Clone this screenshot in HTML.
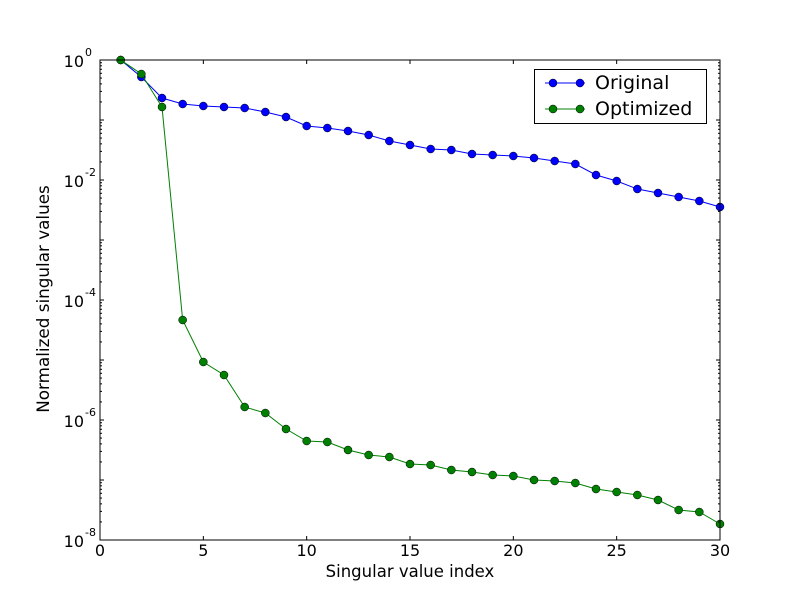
<!DOCTYPE html>
<html><head><meta charset="utf-8"><style>
body{margin:0;background:#fff;}
svg{display:block;font-family:"DejaVu Sans","Liberation Sans",sans-serif;}
</style></head><body>
<svg id="s" width="800" height="600" xmlns="http://www.w3.org/2000/svg">
<rect x="0" y="0" width="800" height="600" fill="#fff"/>
<g id="g"></g>
<rect x="100" y="60" width="620" height="480" fill="none" stroke="#000" stroke-width="1"/>
<text x="410" y="577" font-size="16.5" text-anchor="middle">Singular value index</text>
<text transform="translate(49,299) rotate(-90)" font-size="16.8" text-anchor="middle">Normalized singular values</text>
<rect x="534.5" y="69.5" width="172" height="54" fill="#fff" stroke="#000"/>
<line x1="545" y1="83" x2="585" y2="83" stroke="#0000ff"/>
<circle cx="553" cy="83" r="4" fill="#0000ff" stroke="#000" stroke-width="0.5"/>
<circle cx="580" cy="83" r="4" fill="#0000ff" stroke="#000" stroke-width="0.5"/>
<text x="595" y="89" font-size="19">Original</text>
<line x1="545" y1="109" x2="585" y2="109" stroke="#008000"/>
<circle cx="553" cy="109" r="4" fill="#008000" stroke="#000" stroke-width="0.5"/>
<circle cx="580" cy="109" r="4" fill="#008000" stroke="#000" stroke-width="0.5"/>
<text x="595" y="115" font-size="19">Optimized</text>
</svg>
<script>
var NS="http://www.w3.org/2000/svg",g=document.getElementById('g');
function el(t,a,txt){var e=document.createElementNS(NS,t);for(var k in a)e.setAttribute(k,a[k]);if(txt!=null)e.textContent=txt;g.appendChild(e);return e;}
function X(v){return 100+v*620/30;}
var b=[60,77,98,104,106,107,108,112,117,126,128,131,135,141,145,149,150,154,155,156,158,161,164,175,181,189,193,197,201,207];
var gr=[60,74,107,320,362,375,407,413,429,441,442,450,455,457,464,465,470,472,475,476,480,481,483,489,492,495,500,510,512,524];
[[b,'#0000ff'],[gr,'#008000']].forEach(function(s){
 var p=s[0].map(function(y,i){return X(i+1)+','+y;}).join(' ');
 el('polyline',{points:p,fill:'none',stroke:s[1],'stroke-width':1});
 s[0].forEach(function(y,i){el('circle',{cx:X(i+1),cy:y,r:4,fill:s[1],stroke:'#000','stroke-width':0.5});});
});
for(var i=0;i<=30;i+=5){var x=X(i);
 el('line',{x1:x,y1:540,x2:x,y2:536,stroke:'#000'});el('line',{x1:x,y1:60,x2:x,y2:64,stroke:'#000'});
 el('text',{x:x,y:556,'font-size':16,'text-anchor':'middle'},''+i);}
for(var d=0;d<=8;d++){var y=60+d*60;
 el('line',{x1:100,y1:y,x2:104,y2:y,stroke:'#000'});el('line',{x1:720,y1:y,x2:716,y2:y,stroke:'#000'});
 if(d%2==0){var t=el('text',{x:84,y:y+7,'font-size':16,'text-anchor':'end'},'10');
  el('text',{x:85,y:y-4,'font-size':11},d==0?'0':'-'+d);}
 if(d<8)for(var m=2;m<=9;m++){var yy=y+60-60*Math.log10(m);
  el('line',{x1:100,y1:yy,x2:102,y2:yy,stroke:'#000'});el('line',{x1:720,y1:yy,x2:718,y2:yy,stroke:'#000'});}
}
</script>
</body></html>
